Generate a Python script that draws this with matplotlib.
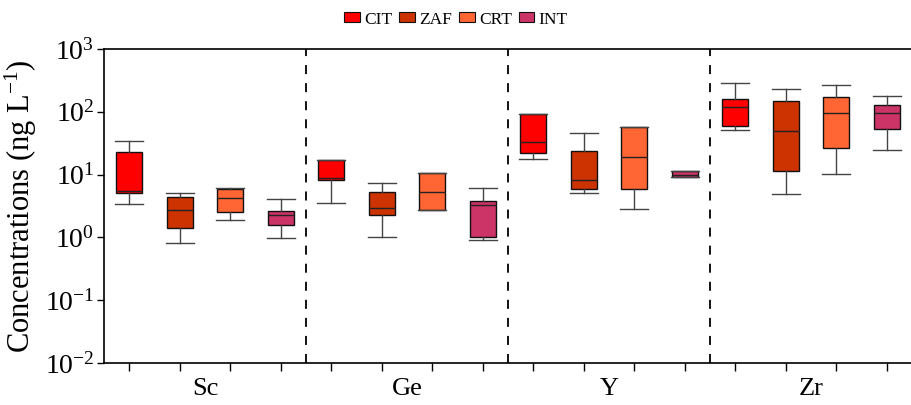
import numpy as np
import matplotlib
matplotlib.use("Agg")
import matplotlib.pyplot as plt
from matplotlib.patches import Patch

plt.rcParams['font.family'] = ['Liberation Serif', 'DejaVu Serif']
plt.rcParams['mathtext.fontset'] = 'custom'
plt.rcParams['mathtext.rm'] = 'Liberation Serif'
plt.rcParams['mathtext.it'] = 'Liberation Serif:italic'

elements = ["Sc", "Ge", "Y", "Zr"]
sources = ["CIT", "ZAF", "CRT", "INT"]
colors = ["#FF0000", "#CC3300", "#FF6633", "#CC3366"]

# per element, per source: (whisker low, q1, median, q3, whisker high)
sc = [(3.4, 5.0, 5.5, 22.6, 34), (0.82, 1.43, 2.7, 4.35, 5.15),
      (1.89, 2.5, 4.24, 5.97, 6.0), (0.97, 1.6, 2.3, 2.66, 4.05)]
ge = [(3.57, 8.2, 8.9, 17.1, 17.2), (1.03, 2.3, 2.94, 5.2, 7.43),
      (2.73, 2.73, 5.35, 10.5, 10.6), (0.91, 1.0, 3.32, 3.85, 6.05)]
y_el = [(17.5, 21.8, 33.4, 91, 92), (5.04, 5.9, 8.2, 23.5, 45.9),
        (2.83, 5.9, 19.3, 56.6, 57), (9.2, 9.3, 10.0, 11.3, 11.5)]
zr = [(51.3, 59.4, 120, 158, 288), (4.96, 11.3, 49.4, 150, 233),
      (10.1, 26.2, 96.8, 170, 270), (24.9, 52.6, 95.7, 127, 177)]
all_data = [sc, ge, y_el, zr]

fig = plt.figure(figsize=(9.12, 4.05), dpi=100)
ax = fig.add_axes([0.114, 0.104, 0.886, 0.775])

stats = []
box_colors = []
for el, rows in zip(elements, all_data):
    for src, col, r in zip(sources, colors, rows):
        stats.append(dict(whislo=r[0], q1=r[1], med=r[2], q3=r[3], whishi=r[4],
                          label=f"{el}-{src}", fliers=[]))
        box_colors.append(col)

positions = np.arange(len(stats))
bp = ax.bxp(stats, positions=positions, widths=0.52, patch_artist=True,
            showfliers=False,
            boxprops=dict(edgecolor="#111111", linewidth=1.0),
            medianprops=dict(color="#222222", linewidth=1.0),
            whiskerprops=dict(color="#444444", linewidth=1.0),
            capprops=dict(color="#444444", linewidth=1.0),
            capwidths=0.55)
for patch, col in zip(bp['boxes'], box_colors):
    patch.set_facecolor(col)

for xv in [3.5, 7.5, 11.5]:
    ax.axvline(xv, color="black", linestyle=(0, (5, 5)), linewidth=1.3)

ax.set_yscale('log')
ax.set_ylim(1e-2, 1e3)
ax.set_yticks([1e-2, 1e-1, 1e0, 1e1, 1e2, 1e3])
ax.set_yticklabels([r"$10^{-2}$", r"$10^{-1}$", r"$10^{0}$", r"$10^{1}$",
                    r"$10^{2}$", r"$10^{3}$"])
ax.yaxis.set_minor_locator(matplotlib.ticker.NullLocator())
ax.tick_params(axis='y', labelsize=20, length=5, width=1, pad=2)

ax.set_xlim(-0.5, 15.5)
ax.set_xticks(positions)
ax.set_xticklabels([])
ax.set_xticks([1.5, 5.5, 9.5, 13.5], minor=True)
ax.set_xticklabels(elements, minor=True)
ax.tick_params(axis='x', which='major', length=6, width=1)
ax.tick_params(axis='x', which='minor', length=0, labelsize=19, pad=11)

ax.set_ylabel("Concentrations (ng L$^{-1}$)", fontsize=22, labelpad=4)
ax.spines['right'].set_visible(False)
for s in ['top', 'left', 'bottom']:
    ax.spines[s].set_linewidth(1.2)

handles = [Patch(facecolor=c, edgecolor="#111111", linewidth=0.8, label=s)
           for s, c in zip(sources, colors)]
fig.legend(handles=handles, loc='upper center', bbox_to_anchor=(0.5, 1.01),
           ncol=4, frameon=False, fontsize=12.5, handlelength=0.9,
           handleheight=0.5, handletextpad=0.25, columnspacing=0.4)

fig.savefig("out.png", dpi=100)
